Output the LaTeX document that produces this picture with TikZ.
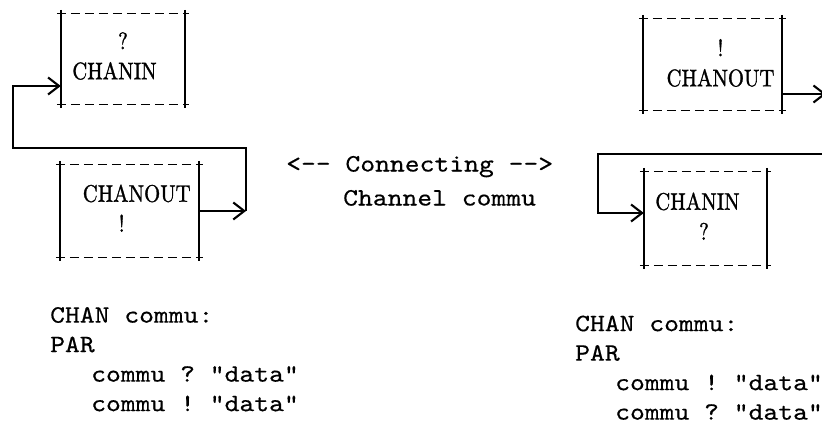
\documentclass[tikz,border=0pt]{standalone}
\usepackage{fontspec}
\newfontfamily\labelfont[FakeStretch=0.86, FakeBold=1.2]{lmroman10-regular.otf}
\newfontfamily\typefont[FakeStretch=1.13, FakeBold=0.4]{lmmono10-regular.otf}
\usetikzlibrary{arrows.meta}

\begin{document}
\begin{tikzpicture}[x=1pt, y=-1pt,
  >={Straight Barb[length=11pt, width=17pt, line width=2.1pt]},
  chanbox/.style={inner sep=0pt},
  boxlabel/.style={font=\labelfont\fontsize{24}{30}\selectfont, align=center, inner sep=0pt, anchor=south},
  typed/.style={font=\typefont\fontsize{25}{29.5}\selectfont\frenchspacing, align=left, inner sep=0pt, anchor=south west},
  side/.style={line width=2.2pt},
  dashside/.style={line width=1.3pt, dash pattern=on 9pt off 5pt},
  link/.style={line width=1.8pt}]

\useasboundingbox (0,0) rectangle (822,427);
\clip (0,0) rectangle (822,427);

% channel ends
\node[chanbox, minimum width=124pt, minimum height=90pt] (inL) at (123,59) {};
\node[chanbox, minimum width=139pt, minimum height=92pt] (outL) at (129.5,211) {};
\node[chanbox, minimum width=139pt, minimum height=91pt] (outR) at (712.5,64.5) {};
\node[chanbox, minimum width=123pt, minimum height=93pt] (inR) at (705.5,218.5) {};

\foreach \b in {inL,outL,outR,inR} {
  \draw[dashside] ([xshift=-4pt]\b.north west) -- ([xshift=4pt]\b.north east);
  \draw[dashside] ([xshift=-4pt]\b.south west) -- ([xshift=4pt]\b.south east);
  \draw[side] ([yshift=4pt]\b.north west) -- ([yshift=-4pt]\b.south west);
  \draw[side] ([yshift=4pt]\b.north east) -- ([yshift=-4pt]\b.south east);
}

\node[boxlabel] (inLtext) at (114.5,80) {\hspace*{17pt}?\\CHANIN};
\node[boxlabel] (outLtext) at (136.7,232) {CHANOUT\\!\hspace*{30pt}};
\node[boxlabel] (outRtext) at (720.5,87) {!\\CHANOUT};
\node[boxlabel] (inRtext) at (697.5,240) {CHANIN\\\hspace*{13pt}?};

% left loop
\coordinate (lbend) at (246,148);
\coordinate (lcorner) at (13,148);
\draw[link,->] (outL.east) -- (outL.east -| lbend);
\draw[link,->] (outL.east -| lbend) -- (lbend) -- (lcorner) |- ([yshift=-27pt]inL.west);

% right loop
\coordinate (rstart) at (822,154);
\coordinate (rbend) at (598,154);
\draw[link,->] ([yshift=-29.5pt]outR.east) -- ++(44,0);
\draw[link,->] (rstart) -- (rbend) |- ([yshift=5.5pt]inR.west);

\node[typed, font=\typefont\fontsize{25}{34}\selectfont] (middle) at (286,206)
  {<-{}- Connecting -{}->\\\hspace*{57pt}Channel commu};

\node[typed] (codeL) at (50,411.5)
  {CHAN commu:\\PAR\\\hspace*{41pt}commu ? "data"\\\hspace*{41pt}commu ! "data"};
\node[typed] (codeR) at (575,420)
  {CHAN commu:\\PAR\\\hspace*{40pt}commu ! "data"\\\hspace*{40pt}commu ? "data"};

\end{tikzpicture}
\end{document}
